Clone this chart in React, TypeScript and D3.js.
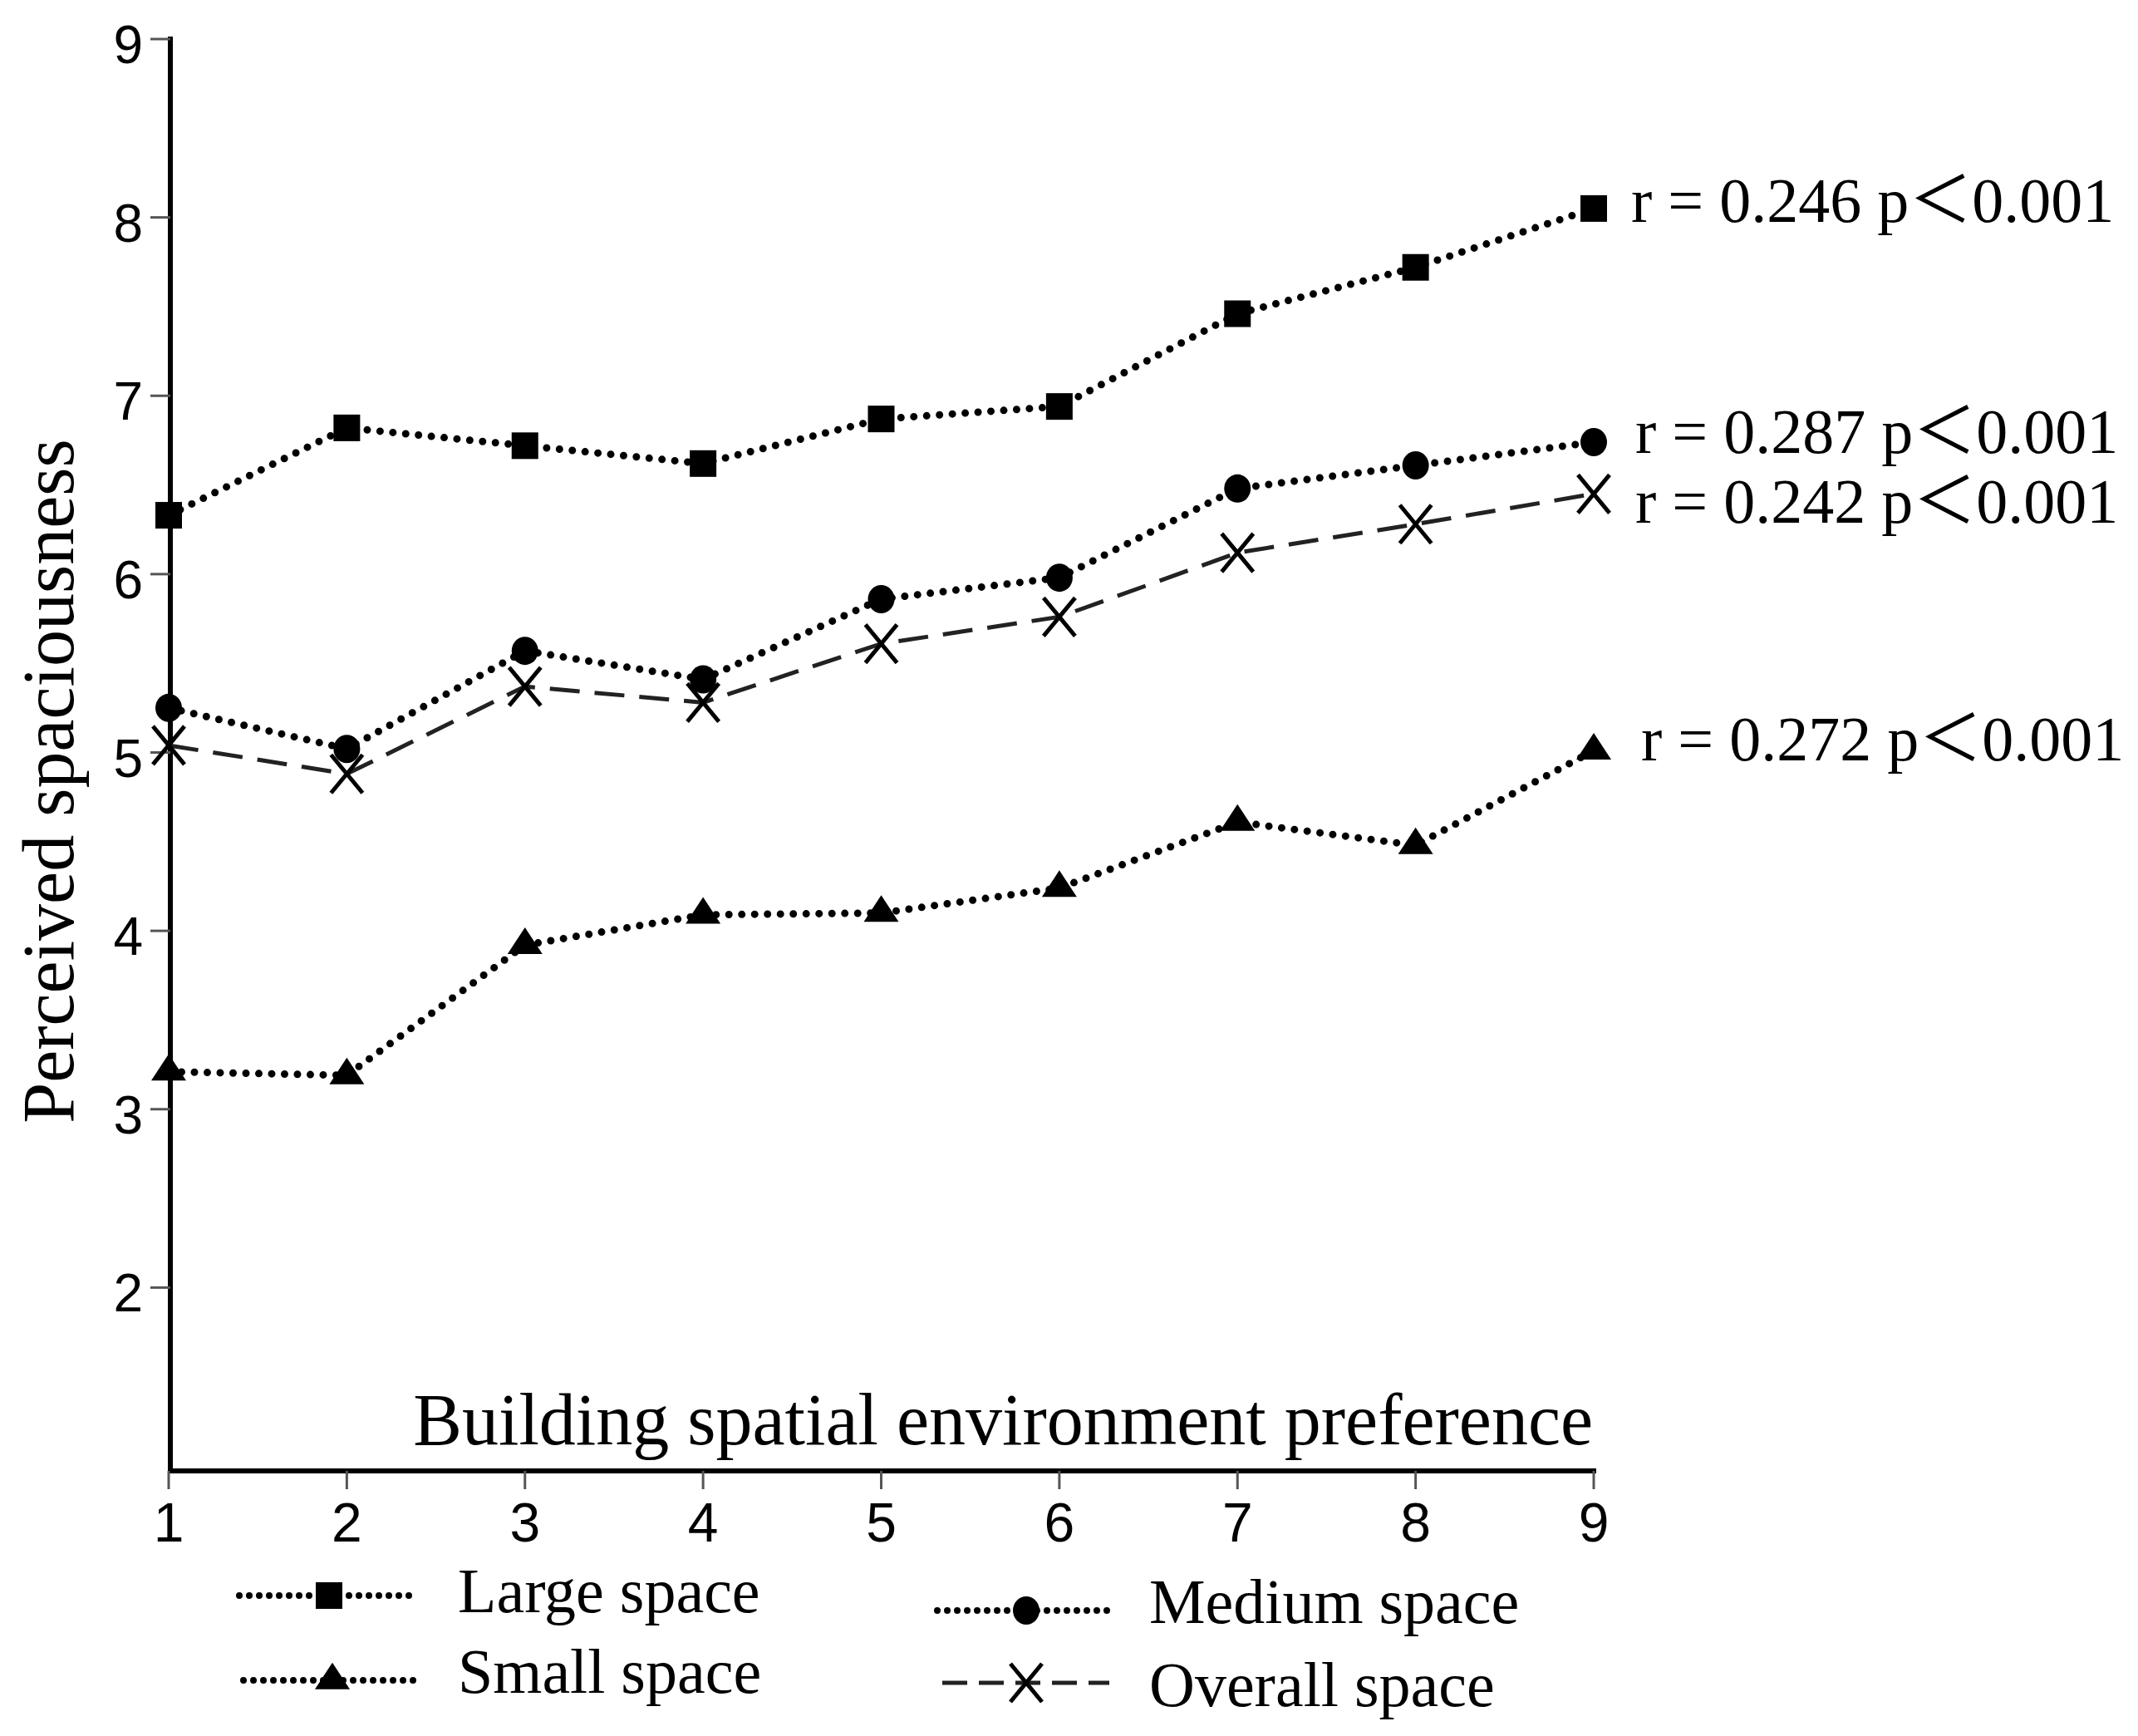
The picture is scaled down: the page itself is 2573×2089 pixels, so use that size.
import React from 'react';
import { scaleLinear, line } from 'd3';

const categories = [1, 2, 3, 4, 5, 6, 7, 8, 9];
const largeSpace = [6.33, 6.82, 6.72, 6.62, 6.87, 6.94, 7.46, 7.72, 8.05];
const mediumSpace = [5.25, 5.02, 5.57, 5.41, 5.86, 5.98, 6.48, 6.61, 6.74];
const smallSpace = [3.21, 3.19, 3.92, 4.09, 4.10, 4.24, 4.61, 4.48, 5.01];
const overallSpace = [5.04, 4.88, 5.37, 5.28, 5.61, 5.76, 6.12, 6.28, 6.45];
const yTicks = [2, 3, 4, 5, 6, 7, 8, 9];
const xTicks = [1, 2, 3, 4, 5, 6, 7, 8, 9];
const stats = ['r = 0.246 p＜0.001', 'r = 0.287 p＜0.001', 'r = 0.242 p＜0.001', 'r = 0.272 p＜0.001'];

const W = 2573;
const H = 2089;
const serif = '"Liberation Serif", "Times New Roman", "Noto Sans CJK SC", serif';
const sans = '"Liberation Sans", Arial, sans-serif';

const Marker = ({ kind, cx, cy }) => {
  if (kind === 'square') return <rect x={cx - 16} y={cy - 16} width={32} height={32} fill="#000" />;
  if (kind === 'circle') return <ellipse cx={cx} cy={cy} rx={16} ry={17} fill="#000" />;
  if (kind === 'triangle') {
    const h = 32, w = 42;
    return <path d={`M${cx},${cy - (2 * h) / 3} L${cx + w / 2},${cy + h / 3} L${cx - w / 2},${cy + h / 3} Z`} fill="#000" />;
  }
  return (
    <g stroke="#000" strokeWidth={5}>
      <line x1={cx - 19} y1={cy - 23} x2={cx + 19} y2={cy + 23} />
      <line x1={cx - 19} y1={cy + 23} x2={cx + 19} y2={cy - 23} />
    </g>
  );
};

const dotted = { stroke: '#000', strokeWidth: 9, strokeLinecap: 'round' as const, strokeDasharray: '0 15.5' };
const dashed = { stroke: '#222', strokeWidth: 5, strokeDasharray: '36 18' };

const App = () => {
  const x = scaleLinear().domain([1, 9]).range([203, 1918]);
  const y = scaleLinear().domain([1, 9]).range([1764, 47]);

  const series = [
    { name: 'Large space', values: largeSpace, kind: 'square', style: dotted },
    { name: 'Medium space', values: mediumSpace, kind: 'circle', style: dotted },
    { name: 'Overall space', values: overallSpace, kind: 'cross', style: dashed },
    { name: 'Small space', values: smallSpace, kind: 'triangle', style: dotted },
  ];

  const lineGen = line<number>()
    .x((d, i) => x(categories[i]))
    .y(d => y(d));

  // labels to the right of the last point
  const statPos = [
    { x: 1963, y: 267 },
    { x: 1968, y: 545 },
    { x: 1968, y: 629 },
    { x: 1975, y: 915 },
  ];

  const legend = [
    { s: series[0], x1: 288, x2: 497, mx: 396, my: 1920, tx: 551, ty: 1940 },
    { s: series[3], x1: 293, x2: 502, mx: 400, my: 2022, tx: 551, ty: 2037 },
    { s: series[1], x1: 1128, x2: 1338, mx: 1235, my: 1938, tx: 1383, ty: 1953 },
    { s: series[2], x1: 1134, x2: 1335, mx: 1235, my: 2025, tx: 1383, ty: 2053 },
  ];

  const axisY = y(1) + 6;

  return (
    <svg width={W} height={H} style={{ position: 'absolute', left: 0, top: 0, display: 'block', background: '#fff' }}>
      {/* y axis */}
      <line x1={205} x2={205} y1={y(9) - 3} y2={axisY + 3} stroke="#000" strokeWidth={6} />
      {yTicks.map(t => (
        <g key={t}>
          <line x1={181} x2={205} y1={y(t)} y2={y(t)} stroke="#555" strokeWidth={3} />
          <text x={172} y={y(t) + 29} textAnchor="end" fontFamily={sans} fontSize={64}>{t}</text>
        </g>
      ))}
      {/* x axis */}
      <line x1={202} x2={1921} y1={axisY} y2={axisY} stroke="#000" strokeWidth={6} />
      {xTicks.map(t => (
        <g key={t}>
          <line x1={x(t)} x2={x(t)} y1={axisY} y2={axisY + 22} stroke="#555" strokeWidth={3} />
          <text x={x(t)} y={1855} textAnchor="middle" fontFamily={sans} fontSize={66}>{t}</text>
        </g>
      ))}
      <text x={1917} y={1738} textAnchor="end" fontFamily={serif} fontSize={88}>Building spatial environment preference</text>
      <text transform="translate(88,940) rotate(-90)" textAnchor="middle" fontFamily={serif} fontSize={88}>Perceived spaciousness</text>

      {series.map(s => (
        <path key={s.name} d={lineGen(s.values) || ''} fill="none" {...s.style} />
      ))}
      {series.map(s => (
        <g key={s.name + '-m'}>
          {s.values.map((v, i) => <Marker key={i} kind={s.kind} cx={x(categories[i])} cy={y(v)} />)}
        </g>
      ))}

      {stats.map((t, i) => (
        <text key={t + i} x={statPos[i].x} y={statPos[i].y} fontFamily={serif} fontSize={76}>{t}</text>
      ))}

      {legend.map(l => (
        <g key={l.s.name}>
          <line x1={l.x1} x2={l.x2} y1={l.my} y2={l.my} {...l.s.style}
            strokeWidth={l.s.kind === 'cross' ? 5 : 8}
            strokeDasharray={l.s.kind === 'cross' ? '30 14' : '0 12'} />
          <Marker kind={l.s.kind} cx={l.mx} cy={l.my} />
          <text x={l.tx} y={l.ty} fontFamily={serif} fontSize={76}>{l.s.name}</text>
        </g>
      ))}
    </svg>
  );
};

export default App;
